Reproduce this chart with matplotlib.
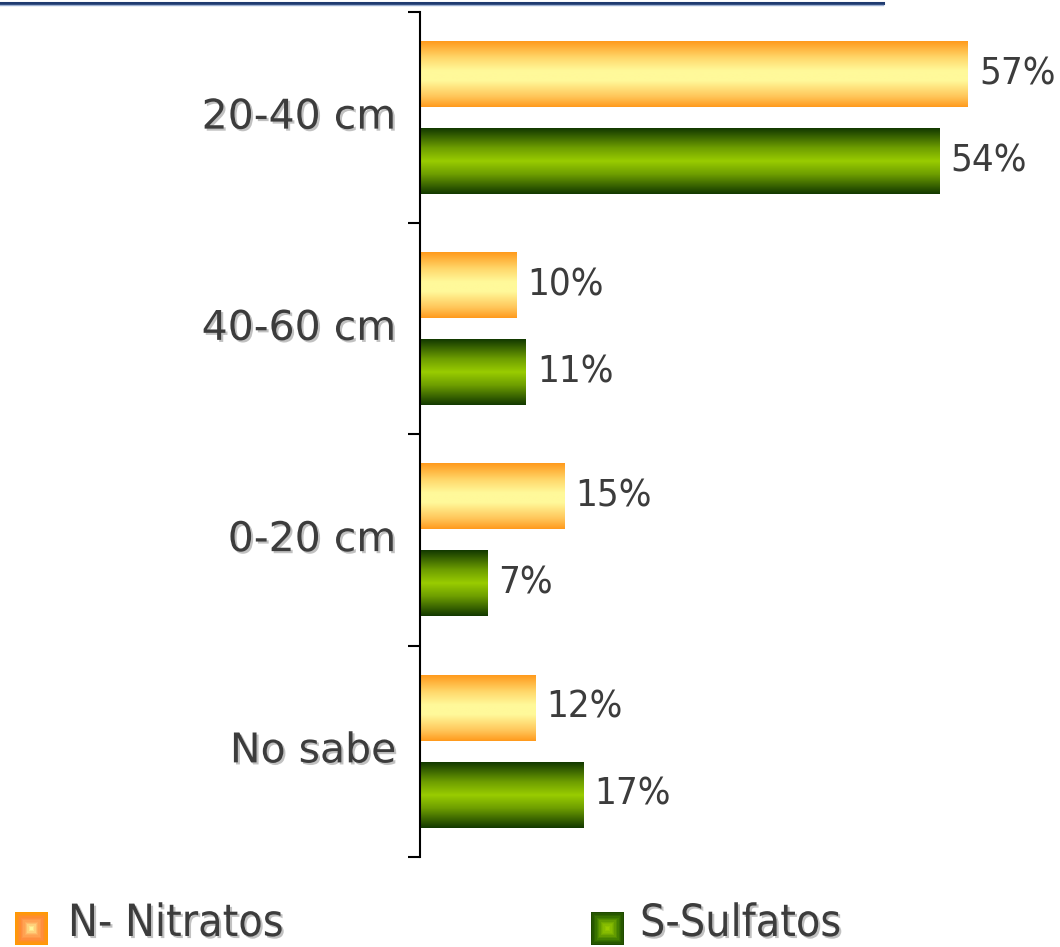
import matplotlib
matplotlib.use("Agg")
import matplotlib.pyplot as plt
import numpy as np
from matplotlib import font_manager
from matplotlib.font_manager import FontProperties
from matplotlib.colors import LinearSegmentedColormap
from matplotlib.lines import Line2D
from matplotlib.patches import Rectangle
import matplotlib.patheffects as pe

categories = ["20-40 cm", "40-60 cm", "0-20 cm", "No sabe"]
nitratos = [57, 10, 15, 12]
sulfatos = [54, 11, 7, 17]
series_names = ["N- Nitratos", "S-Sulfatos"]

# look for a condensed / narrow sans face (falls back to DejaVu Sans)
narrow_path = None
for f in font_manager.fontManager.ttflist:
    nm = f.name.lower()
    st = str(f.stretch).lower()
    fn = f.fname.lower()
    if f.style != "normal" or f.weight not in (400, "normal", "regular"):
        continue
    if "narrow" in nm or "condensed" in nm or "condensed" in st or "condensed" in fn:
        if "bold" in fn or "italic" in fn or "oblique" in fn or "light" in fn:
            continue
        if "mono" in fn or "serif" in fn and "sans" not in fn:
            continue
        narrow_path = f.fname
        break

if narrow_path:
    val_fp = FontProperties(fname=narrow_path, size=27.5)
    leg_fp = FontProperties(fname=narrow_path, size=32)
else:
    val_fp = FontProperties(family="DejaVu Sans", size=25)
    leg_fp = FontProperties(family="DejaVu Sans", size=29)

W, H = 1060, 947
fig = plt.figure(figsize=(W / 100, H / 100), dpi=100)
ax = fig.add_axes([420 / W, 1 - 857 / H, 640 / W, (857 - 12) / H])

orange_cmap = LinearSegmentedColormap.from_list(
    "org", [(0, "#FF9A1C"), (0.25, "#FFD76A"), (0.45, "#FFF99A"), (0.6, "#FFF99A"),
            (0.85, "#FFC457"), (1, "#FF9A1C")])
green_cmap = LinearSegmentedColormap.from_list(
    "grn", [(0, "#123800"), (0.3, "#6E9E00"), (0.5, "#99CC00"), (0.7, "#6E9E00"),
            (1, "#123800")])
grad = np.linspace(0, 1, 256).reshape(-1, 1)

y = np.arange(len(categories))
off = 0.206
h = 0.31
b1 = ax.barh(y - off, nitratos, height=h, color="none")
b2 = ax.barh(y + off, sulfatos, height=h, color="none")

for bars, cmap in ((b1, orange_cmap), (b2, green_cmap)):
    for r in bars:
        x0, y0 = r.get_x(), r.get_y()
        ax.imshow(grad, cmap=cmap, aspect="auto", interpolation="bilinear",
                  extent=[x0, x0 + r.get_width(), y0 + r.get_height(), y0], zorder=2)

xmax = 640 / ((968 - 420) / 57)
ax.set_xlim(0, xmax)
ax.set_ylim(len(categories) - 0.5, -0.5)

txt_color = "#3C3C3C"
shadow = [pe.SimplePatchShadow(offset=(1.5, -1.5), shadow_rgbFace="#BBBBBB", alpha=0.9), pe.Normal()]

for bars, vals in ((b1, nitratos), (b2, sulfatos)):
    for r, v in zip(bars, vals):
        ax.annotate(f"{v}%", (r.get_width(), r.get_y() + r.get_height() / 2),
                    xytext=(8, 0), textcoords="offset points", va="center", ha="left",
                    fontproperties=val_fp, color=txt_color, annotation_clip=False)

for i, c in enumerate(categories):
    ax.annotate(c, (0, i), xytext=(-17, 0), textcoords="offset points",
                ha="right", va="center", fontsize=29.5, family="DejaVu Sans",
                color=txt_color, path_effects=shadow, annotation_clip=False)

for s in ("top", "right", "bottom"):
    ax.spines[s].set_visible(False)
ax.spines["left"].set_linewidth(1.5)
ax.set_xticks([])
ax.set_yticks(np.arange(-0.5, len(categories), 1.0))
ax.set_yticklabels([])
ax.tick_params(axis="y", length=8.5, width=1.5, direction="out")

# top decorative line
fig.add_artist(Line2D([0, 883 / W], [1 - 3 / H, 1 - 3 / H], color="#1F3B70", lw=2.2,
                      transform=fig.transFigure))
fig.add_artist(Line2D([0, 883 / W], [1 - 5.5 / H, 1 - 5.5 / H], color="#9FB3D4", lw=1,
                      transform=fig.transFigure))

# legend markers with concentric gradient
def marker(x, cmap):
    size, top = 33, 912
    n = 12
    for k in range(n):
        inset = k * (size / 2) / n
        col = cmap(k / (n - 1))
        fig.add_artist(Rectangle(((x + inset) / W, 1 - (top + size - inset) / H),
                                 (size - 2 * inset) / W, (size - 2 * inset) / H,
                                 transform=fig.transFigure, facecolor=col, edgecolor="none"))

leg_org = LinearSegmentedColormap.from_list("lo", ["#FF9A00", "#FF8A3A", "#FFB060", "#FFF79A"])
leg_grn = LinearSegmentedColormap.from_list("lg", ["#1E4A00", "#3E7A00", "#76AE00", "#99CC00"])
marker(15, leg_org)
marker(591, leg_grn)
fig.text(68 / W, 1 - 936 / H, series_names[0], fontproperties=leg_fp,
         color=txt_color, va="baseline", ha="left", path_effects=shadow)
fig.text(640 / W, 1 - 936 / H, series_names[1], fontproperties=leg_fp,
         color=txt_color, va="baseline", ha="left", path_effects=shadow)

fig.savefig("out.png", dpi=100)
